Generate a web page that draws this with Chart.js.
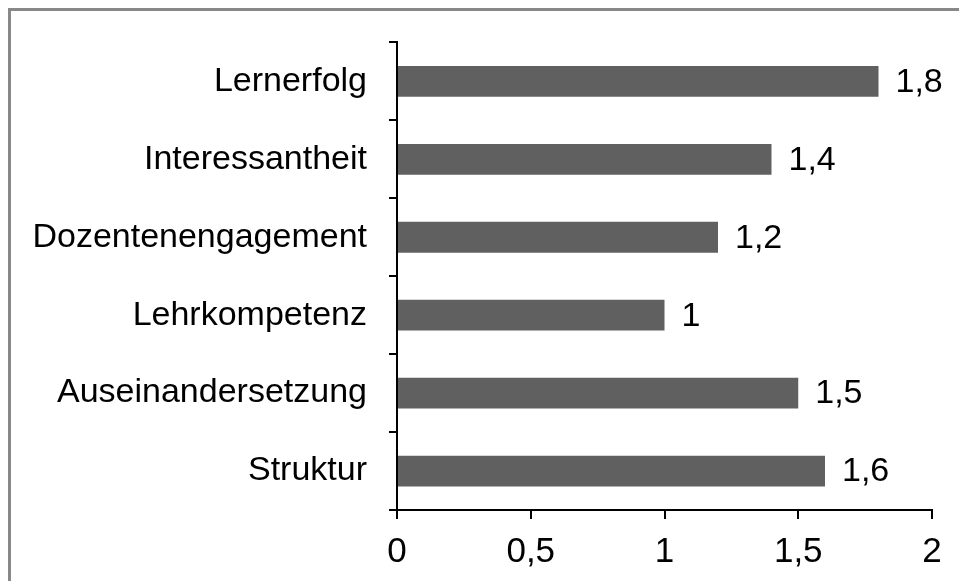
<!DOCTYPE html>
<html>
<head>
<meta charset="utf-8">
<script src="https://cdn.jsdelivr.net/npm/chart.js@4"></script>
<style>
  body { margin: 0; background: #fff; }
  #wrap { position: relative; width: 959px; height: 581px; }
  #frame {
    position: absolute; left: 8px; top: 8px; width: 960px; height: 580px;
    border-top: 3px solid #888; border-left: 3px solid #888;
  }
  canvas { position: absolute; left: 0; top: 0; }
</style>
</head>
<body>
<div id="wrap">
  <div id="frame"></div>
  <canvas id="myChart" width="959" height="581"></canvas>
</div>
<script>
const labels = ["Lernerfolg", "Interessantheit", "Dozentenengagement", "Lehrkompetenz", "Auseinandersetzung", "Struktur"];
const values = [1.8, 1.4, 1.2, 1, 1.5, 1.6];
const xTicks = [0, 0.5, 1, 1.5, 2];

const fontFam = "'Liberation Sans', Arial, sans-serif";
const fmt = (v) => String(v).replace(".", ",");

// value labels right of the bars
const barLabels = {
  id: "barLabels",
  afterDatasetsDraw(chart) {
    const c = chart.ctx;
    const meta = chart.getDatasetMeta(0);
    c.save();
    c.font = "34px " + fontFam;
    c.fillStyle = "#000";
    c.textAlign = "left";
    c.textBaseline = "middle";
    meta.data.forEach((bar, i) => {
      c.fillText(fmt(values[i]), bar.x + 17, bar.y + 1);
    });
    c.restore();
  },
};

let ctx = document.getElementById("myChart").getContext("2d");
let myChart = new Chart(ctx, {
  type: "bar",
  data: {
    labels: labels,
    datasets: [
      {
        data: values,
        backgroundColor: "#606060",
        categoryPercentage: 1,
        barPercentage: 0.395,
      },
    ],
  },
  options: {
    indexAxis: "y",
    responsive: false,
    animation: false,
    layout: { padding: { top: 39, right: 27, left: 0, bottom: 0 } },
    plugins: { legend: { display: false }, tooltip: { enabled: false } },
    scales: {
      x: {
        min: 0,
        max: 2,
        afterBuildTicks: (scale) => {
          scale.ticks = xTicks.map((v) => ({ value: v }));
        },
        afterFit: (scale) => {
          scale.height = 71;
        },
        grid: { drawOnChartArea: false, tickLength: 9, color: "#000", lineWidth: 2 },
        border: { color: "#000", width: 2 },
        ticks: {
          color: "#000",
          padding: 12,
          maxRotation: 0,
          font: { size: 35, family: fontFam },
          callback: (v) => fmt(v),
        },
      },
      y: {
        afterFit: (scale) => {
          scale.width = 397;
        },
        grid: { drawOnChartArea: false, tickLength: 8, color: "#000", lineWidth: 2, offset: true },
        border: { color: "#000", width: 2 },
        ticks: {
          color: "#000",
          padding: 22,
          font: { size: 34, family: fontFam },
        },
      },
    },
  },
  plugins: [barLabels],
});
</script>
</body>
</html>
